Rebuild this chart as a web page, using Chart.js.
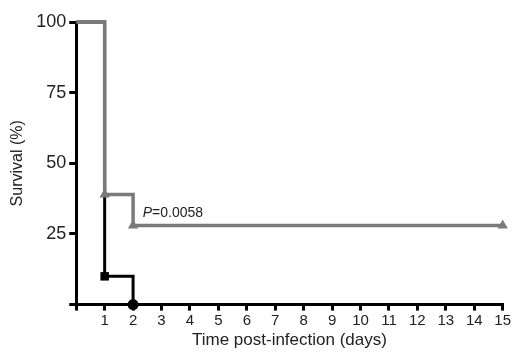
<html>
<head>
    <title>Survival</title>
    <script src="https://cdn.jsdelivr.net/npm/chart.js"></script>
    <style>
        body { margin: 0; background: #fff; }
    </style>
</head>
<body>
<canvas id="chart" width="512" height="360"></canvas>

<script>
    // data
    const days = [0, 1, 2, 15];
    const graySurvival = [100, 39, 28, 28];
    const blackDays = [0, 1, 2];
    const blackSurvival = [100, 10, 0];
    const xTicks = [0, 1, 2, 3, 4, 5, 6, 7, 8, 9, 10, 11, 12, 13, 14, 15];
    const yTicks = [0, 25, 50, 75, 100];
    const pText = '=0.0058';

    const ctx = document.getElementById('chart').getContext('2d');

    // p value label, placed by scale values
    const pLabel = {
        id: 'pLabel',
        afterDatasetsDraw(chart) {
            const c = chart.ctx;
            const x = chart.scales.x.getPixelForValue(2.34);
            const y = chart.scales.y.getPixelForValue(32.5);
            c.save();
            c.fillStyle = '#222';
            c.textBaseline = 'middle';
            c.font = 'italic 14px "Liberation Sans", Arial, sans-serif';
            c.fillText('P', x, y);
            const w = c.measureText('P').width;
            c.font = '14px "Liberation Sans", Arial, sans-serif';
            c.fillText(pText, x + w, y);
            c.restore();
        }
    };

    const chart = new Chart(ctx, {
        type: 'line',
        data: {
            datasets: [{
                label: 'gray',
                data: days.map((d, i) => ({x: d, y: graySurvival[i]})),
                borderColor: '#7a7a7a',
                backgroundColor: '#7a7a7a',
                borderWidth: 3.5,
                stepped: 'before',
                pointStyle: 'triangle',
                pointRadius: [0, 6, 6, 6],
                pointBorderWidth: 0,
                clip: false,
                order: 1
            }, {
                label: 'black',
                data: blackDays.map((d, i) => ({x: d, y: blackSurvival[i]})),
                borderColor: '#000',
                backgroundColor: '#000',
                borderWidth: 3,
                stepped: 'before',
                pointStyle: ['circle', 'rect', 'circle'],
                pointRadius: [0, 6, 5.5],
                pointBorderWidth: 0,
                clip: false,
                order: 2
            }]
        },
        options: {
            responsive: false,
            animation: false,
            layout: {padding: {top: 22, right: 9, left: 8, bottom: 9}},
            plugins: {legend: {display: false}, tooltip: {enabled: false}},
            scales: {
                x: {
                    type: 'linear',
                    min: 0,
                    max: 15,
                    afterBuildTicks: axis => { axis.ticks = xTicks.map(v => ({value: v})); },
                    ticks: {
                        color: '#222',
                        font: {size: 15, family: '"Liberation Sans", Arial, sans-serif'},
                        padding: 1,
                        maxRotation: 0,
                        callback: v => v === 0 ? '' : v
                    },
                    grid: {drawOnChartArea: false, drawTicks: true, tickLength: 6, color: '#000', lineWidth: 3},
                    border: {color: '#000', width: 3},
                    title: {
                        display: true,
                        text: 'Time post-infection (days)',
                        color: '#222',
                        font: {size: 17, family: '"Liberation Sans", Arial, sans-serif'},
                        padding: {top: 0, bottom: 0}
                    }
                },
                y: {
                    min: 0,
                    max: 100,
                    afterBuildTicks: axis => { axis.ticks = yTicks.map(v => ({value: v})); },
                    ticks: {
                        color: '#222',
                        font: {size: 18, family: '"Liberation Sans", Arial, sans-serif'},
                        padding: 3,
                        callback: v => v === 0 ? '' : v
                    },
                    grid: {drawOnChartArea: false, drawTicks: true, tickLength: 7, color: '#000', lineWidth: 3},
                    border: {color: '#000', width: 3},
                    title: {
                        display: true,
                        text: 'Survival (%)',
                        color: '#222',
                        font: {size: 16, family: '"Liberation Sans", Arial, sans-serif'},
                        padding: {top: 0, bottom: 6}
                    }
                }
            }
        },
        plugins: [pLabel]
    });
</script>
</body>
</html>
